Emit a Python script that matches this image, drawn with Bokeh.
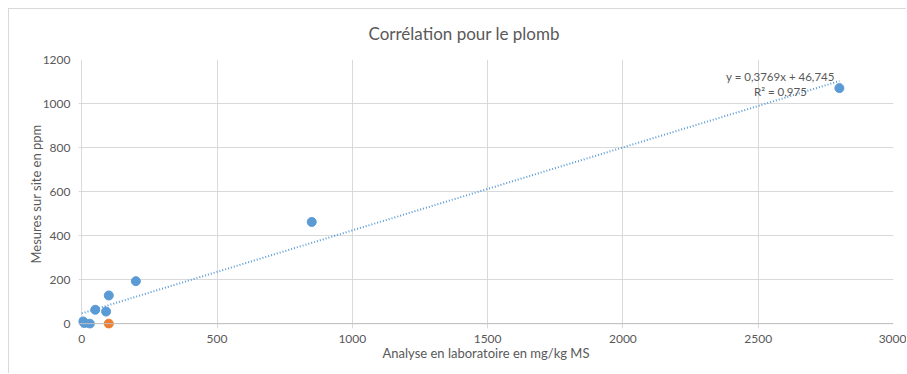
from bokeh.plotting import figure
from bokeh.models import Range1d, Span, Label, FixedTicker
from bokeh.embed import file_html
from bokeh.resources import INLINE

# Data
lab_blue = [5, 10, 30, 50, 90, 100, 200, 850, 2800]
site_blue = [10, 3, 0, 63, 55, 128, 193, 462, 1070]
lab_orange = [100]
site_orange = [0]

slope = 0.3769
intercept = 46.745
eq_text = "y = 0,3769x + 46,745"
r2_text = "R² = 0,975"
title_text = "Corrélation pour le plomb"

x_ticks = [0, 500, 1000, 1500, 2000, 2500, 3000]
y_ticks = [0, 200, 400, 600, 800, 1000, 1200]

TXT = "#595959"
FONT = "Lato"

p = figure(width=898, height=365, output_backend="svg", toolbar_location=None,
           x_range=Range1d(-12, 3000), y_range=Range1d(-22, 1200),
           min_border_left=69, min_border_right=14, min_border_top=50, min_border_bottom=46,
           styles={"margin-left": "8px", "margin-top": "8px",
                   "border-left": "1px solid #d9d9d9", "border-top": "1px solid #d9d9d9"})
p.outline_line_color = None
p.background_fill_color = "white"

p.title.text = title_text
p.title.align = "left"
p.title.offset = 290
p.title.vertical_align = "top"
p.title.standoff = 27
p.title.text_font = FONT
p.title.text_font_size = "17px"
p.title.text_font_style = "normal"
p.title.text_color = TXT

for ax in (p.xaxis, p.yaxis):
    ax.axis_line_color = None
    ax.major_tick_line_color = None
    ax.minor_tick_line_color = None
    ax.major_tick_out = 0
    ax.major_tick_in = 0
    ax.major_label_text_font = FONT
    ax.major_label_text_font_size = "12px"
    ax.major_label_text_color = TXT
    ax.axis_label_text_font = FONT
    ax.axis_label_text_font_size = "13px"
    ax.axis_label_text_font_style = "normal"
    ax.axis_label_text_color = TXT
p.xaxis.ticker = FixedTicker(ticks=x_ticks)
p.yaxis.ticker = FixedTicker(ticks=y_ticks)
p.xaxis.axis_label = "Analyse en laboratoire en mg/kg MS"
p.yaxis.axis_label = "Mesures sur site en ppm"
p.xaxis.major_label_standoff = 6
p.xaxis.axis_label_standoff = -1
p.yaxis.major_label_standoff = 8
p.yaxis.axis_label_standoff = -4

p.xgrid.grid_line_color = "#d9d9d9"
p.ygrid.grid_line_color = "#d9d9d9"
p.add_layout(Span(location=0, dimension="width", line_color="#bfbfbf", line_width=1))

# trendline
xs = [0, max(lab_blue)]
ys = [intercept + slope * v for v in xs]
p.line(xs, ys, line_color="#5b9bd5", line_width=2, line_dash="1 2")

p.scatter(lab_blue, site_blue, size=9, fill_color="#5b9bd5", line_color="#5b9bd5")
p.scatter(lab_orange, site_orange, size=9, fill_color="#ed7d31", line_color="#ed7d31")

p.add_layout(Label(x=2582, y=1122, text=eq_text, text_align="center", text_baseline="middle",
                   text_font=FONT, text_font_size="11.5px", text_color=TXT))
p.add_layout(Label(x=2582, y=1054, text=r2_text, text_align="center", text_baseline="middle",
                   text_font=FONT, text_font_size="11.5px", text_color=TXT))

open("out.html", "w").write(file_html(p, INLINE))
